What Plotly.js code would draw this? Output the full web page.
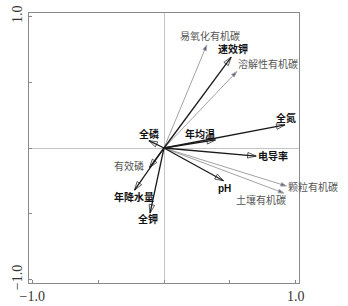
<!DOCTYPE html>
<html>
<head>
<meta charset="utf-8">
<script src="https://cdn.plot.ly/plotly-3.0.1.min.js"></script>
<style>html,body{margin:0;padding:0;background:#fff;}#chart{width:348px;height:306px;}</style>
</head>
<body>
<div id="chart"></div>
<script>
// Main (explanatory) variables
var mainNames = ['速效钾', '全氮', '年均温', '全磷', '电导率', '有效磷', '年降水量', '全钾', 'pH'];
var mainX = [0.510, 0.919, 0.391, -0.115, 0.700, -0.110, -0.224, -0.106, 0.452];
var mainY = [0.691, 0.175, 0.061, 0.056, -0.061, -0.149, -0.320, -0.495, -0.249];

// Supplementary (response) variables
var supNames = ['易氧化有机碳', '溶解性有机碳', '颗粒有机碳', '土壤有机碳'];
var supX = [0.325, 0.553, 0.930, 0.911];
var supY = [0.784, 0.581, -0.289, -0.343];

// Axis tick labels
var tickVals = [-1, -0.5, 0, 0.5, 1];
var tickText = ['\u22121.0', '', '', '', '1.0'];

// label offsets (px) – layout only
var mainDx = [2, 1, -16, 0, 17, -21, -1, -2, 1];
var mainDy = [-8, -7, -6, -7, 0, -2, 7, 5.5, 7.6];
var mainGray = [false, false, false, false, false, true, false, false, false];
var supDx = [3, 31, 27, -23];
var supDy = [-9, -8, 0.7, 6.5];

var traces = [];
var annotations = [];

supNames.forEach(function (n, i) {
  traces.push({
    type: 'scatter', mode: 'lines+markers',
    x: [0, supX[i]], y: [0, supY[i]],
    line: {color: '#8a8a8a', width: 0.8},
    marker: {symbol: ['circle', 'arrow'], size: [0, 6], color: '#1c1c55', angleref: 'previous'},
    hoverinfo: 'skip', showlegend: false
  });
  annotations.push({
    x: supX[i], y: supY[i], xref: 'x', yref: 'y', text: n, showarrow: false,
    xshift: supDx[i], yshift: -supDy[i],
    font: {family: 'Noto Sans CJK SC', size: 10, color: '#555'}
  });
});

mainNames.forEach(function (n, i) {
  traces.push({
    type: 'scatter', mode: 'lines+markers',
    x: [0, mainX[i]], y: [0, mainY[i]],
    line: {color: '#1a1a1a', width: 1.3},
    marker: {symbol: ['circle', 'arrow-open'], size: [0, 9], color: '#1a1a1a', line: {width: 1}, angleref: 'previous'},
    hoverinfo: 'skip', showlegend: false
  });
  annotations.push({
    x: mainX[i], y: mainY[i], xref: 'x', yref: 'y', text: n, showarrow: false,
    xshift: mainDx[i], yshift: -mainDy[i],
    font: {family: 'Liberation Sans, Noto Sans CJK SC', size: 10,
           color: mainGray[i] ? '#555' : '#111', weight: mainGray[i] ? 'normal' : 'bold'}
  });
});

var axisCommon = {
  tickmode: 'array', tickvals: tickVals, ticktext: tickText,
  ticks: 'inside', ticklen: 3, tickcolor: '#888', tickwidth: 1,
  showgrid: false, zeroline: true, zerolinecolor: '#c4c4c4', zerolinewidth: 1,
  showline: true, mirror: true, linecolor: '#8a8a8a', linewidth: 1,
  tickfont: {family: 'Liberation Serif, DejaVu Serif, serif', size: 14, color: '#333'},
  fixedrange: true
};

var layout = {
  width: 348, height: 306,
  margin: {l: 29, r: 49, t: 13, b: 23, pad: 0},
  paper_bgcolor: '#fff', plot_bgcolor: '#fff',
  xaxis: Object.assign({}, axisCommon, {range: [-1.025, 1.025]}),
  yaxis: Object.assign({}, axisCommon, {range: [-1.026, 1.026], tickangle: -90}),
  annotations: annotations,
  showlegend: false
};

Plotly.newPlot('chart', traces, layout, {staticPlot: true, displayModeBar: false});
</script>
</body>
</html>
